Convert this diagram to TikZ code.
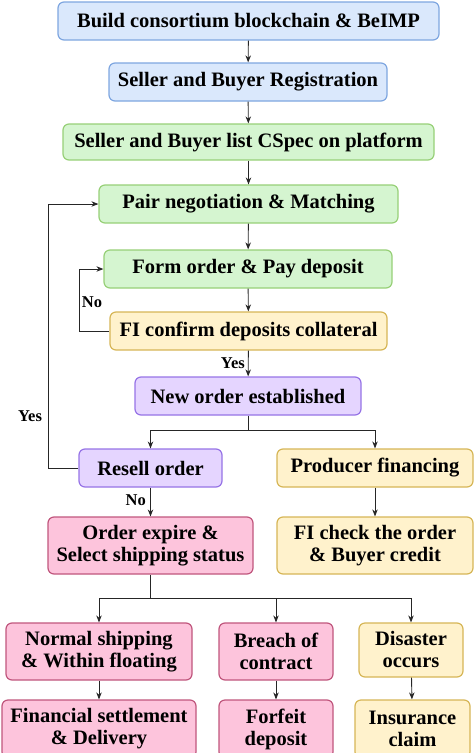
\documentclass[tikz,border=0pt]{standalone}
\usepackage{fontspec}
\setmainfont{Liberation Serif}
\usetikzlibrary{arrows.meta}
\definecolor{bfill}{HTML}{DAE8FC}\definecolor{bdraw}{HTML}{7EA6E0}
\definecolor{gfill}{HTML}{D5F5D0}\definecolor{gdraw}{HTML}{97D077}
\definecolor{yfill}{HTML}{FFF2CC}\definecolor{ydraw}{HTML}{D6B656}
\definecolor{pfill}{HTML}{E5D5FF}\definecolor{pdraw}{HTML}{9673E6}
\definecolor{kfill}{HTML}{FDC4DC}\definecolor{kdraw}{HTML}{C0567D}
\begin{document}
\begin{tikzpicture}[x=1pt,y=-1pt,
  box/.style={rounded corners=6pt,line width=1.2pt,align=center,inner sep=0pt,
    font=\fontsize{20.5}{22}\selectfont\bfseries},
  bluebox/.style={box,fill=bfill,draw=bdraw},
  greenbox/.style={box,fill=gfill,draw=gdraw},
  yelbox/.style={box,fill=yfill,draw=ydraw},
  purbox/.style={box,fill=pfill,draw=pdraw},
  pinkbox/.style={box,fill=kfill,draw=kdraw},
  arr/.style={draw=black!85,line width=0.9pt,-{Stealth[length=7pt,width=5.5pt]}},
  lbl/.style={font=\fontsize{16.5}{18}\selectfont\bfseries,inner sep=0pt}]
\useasboundingbox (0,0) rectangle (474,753);
\clip (0,0) rectangle (474,753);
\node[bluebox,minimum width=381pt,minimum height=38pt] (n1) at (248.5,21) {Build consortium blockchain \& BeIMP};
\node[bluebox,minimum width=278pt,minimum height=38pt] (n2) at (248,82) {Seller and Buyer Registration};
\node[greenbox,minimum width=371pt,minimum height=36pt] (n3) at (248.5,142) {Seller and Buyer list CSpec on platform};
\node[greenbox,minimum width=299pt,minimum height=38pt] (n4) at (248.5,204) {Pair negotiation \& Matching};
\node[greenbox,minimum width=288pt,minimum height=38pt] (n5) at (248,269) {Form order \& Pay deposit};
\node[yelbox,minimum width=277pt,minimum height=38pt] (n6) at (248.5,331) {FI confirm deposits collateral};
\node[purbox,minimum width=226pt,minimum height=38pt] (n7) at (248,396) {New order established};
\node[purbox,minimum width=143pt,minimum height=38pt] (n8) at (150.5,468) {Resell order};
\node[yelbox,minimum width=196pt,minimum height=38pt] (n9) at (375,468) {Producer financing};
\node[pinkbox,minimum width=205pt,minimum height=57pt] (n10) at (150.5,545.5) {Order expire \&\\Select shipping status};
\node[yelbox,minimum width=196pt,minimum height=57pt] (n11) at (375,545.5) {FI check the order\\\& Buyer credit};
\node[pinkbox,minimum width=186pt,minimum height=57pt] (n12) at (99,651.5) {Normal shipping\\\& Within floating};
\node[pinkbox,minimum width=114pt,minimum height=57pt] (n13) at (276,651.5) {Breach of\\contract};
\node[yelbox,minimum width=104pt,minimum height=54pt] (n14) at (411,650) {Disaster\\occurs};
\node[pinkbox,minimum width=194pt,minimum height=58pt] (n15) at (99,729) {Financial settlement\\\& Delivery};
\node[pinkbox,minimum width=114pt,minimum height=58pt] (n16) at (276,729) {Forfeit\\deposit};
\node[yelbox,minimum width=115pt,minimum height=58pt] (n17) at (412.5,729) {Insurance\\claim};
\draw[arr] (n1) -- (n2);
\draw[arr] (n2) -- (n3);
\draw[arr] (n3) -- (n4);
\draw[arr] (n4) -- (n5);
\draw[arr] (n5) -- (n6);
\draw[arr] (n6) -- (n7);
\node[lbl,anchor=east] (lyes1) at (245,363) {Yes};
\coordinate (c6) at (79,331);
\draw[arr] (n6.west) -- (c6) |- (n5.west);
\node[lbl] (lno1) at (92,302) {No};
\coordinate (c7) at (248,430);
\draw[arr] (n7.south) -- (c7) -| (n8.north);
\draw[arr] (c7) -| (n9.north);
\coordinate (c8) at (48,468);
\draw[arr] (n8.west) -- (c8) |- (n4.west);
\node[lbl] (lyes2) at (30,416) {Yes};
\draw[arr] (n8) -- (n10);
\node[lbl,anchor=east] (lno2) at (146,500) {No};
\draw[arr] (n9) -- (n11);
\coordinate (c10) at (150.5,598);
\draw[arr] (n10.south) -- (c10) -| (n12.north);
\draw[arr] (c10) -| (n13.north);
\draw[arr] (c10) -| (n14.north);
\draw[arr] (n12) -- (n15);
\draw[arr] (n13) -- (n16);
\draw[arr] (n14) -- (n17);
\end{tikzpicture}
\end{document}
